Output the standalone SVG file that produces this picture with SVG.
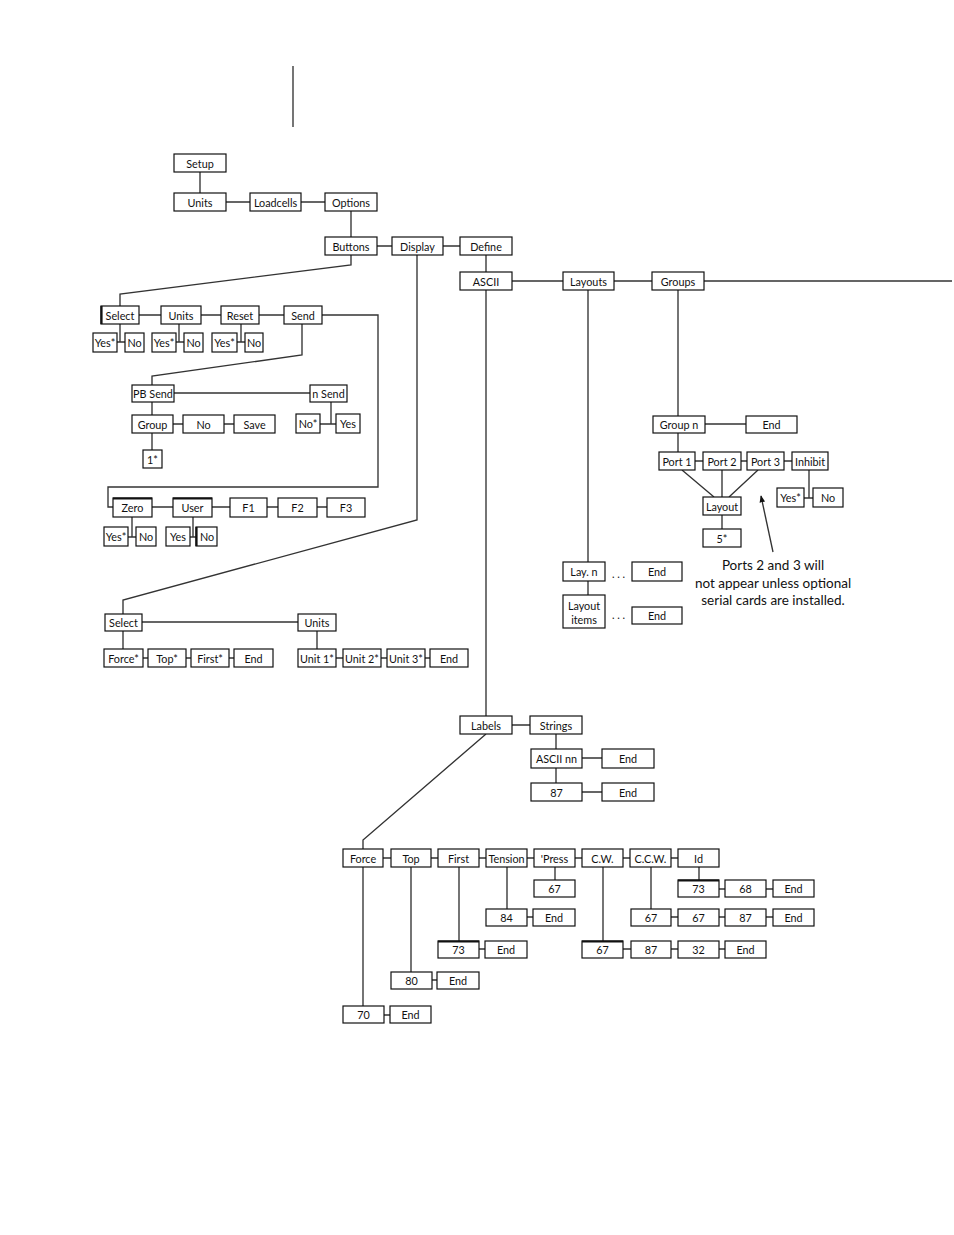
<svg xmlns="http://www.w3.org/2000/svg" width="954" height="1235" viewBox="0 0 954 1235">
<style>
.b{fill:#fff;stroke:#111;stroke-width:1.2}
.t{font-family:"Lato","Liberation Sans",sans-serif;font-size:10.8px;text-anchor:middle;dominant-baseline:central;fill:#111}
.n{font-family:"Lato","Liberation Sans",sans-serif;font-size:13.5px;text-anchor:middle;fill:#111}
.c{fill:none;stroke:#333;stroke-width:1.35}
.k{fill:none;stroke:#111;stroke-width:2.2}
</style>
<defs>
<marker id="ah" viewBox="0 0 10 10" refX="9" refY="5" markerWidth="7" markerHeight="7" orient="auto" markerUnits="userSpaceOnUse">
<path d="M0,1 L10,5 L0,9 Z" fill="#111"/>
</marker>
</defs>
<rect width="954" height="1235" fill="#fff"/>
<g id="connectors">
<path class="c" d="M293,66 V127"/>
<path class="c" d="M200,172 V193 M226,202 H250 M301,202 H325 M351,211 V237 M377,246 H392 M443,246 H460 M486,255 V272 M512,281 H563 M614,281 H652 M704,281 H952"/>
<path class="c" d="M351,255 V265 L120,294 V306 M139,315 H161 M201,315 H221 M259,315 H284"/>
<path class="c" d="M322,315 H378 V487 H108 V507 H113"/>
<path class="c" d="M120,324 V342 M117,342 H125 M179,324 V342 M176,342 H184 M241,324 V342 M237,342 H245"/>
<path class="c" d="M302,324 V355 L152,376 V385 M174,393 H310 M152,402 V415 M152,433 V450 M173,424 H183 M224,424 H234 M331,402 V424 M320,424 H336"/>
<path class="c" d="M152,507 H173 M212,507 H230 M267,507 H278 M317,507 H327 M132,517 V537 M128,537 H136 M193,517 V537 M190,537 H196"/>
<path class="c" d="M417,255 V520 L123,600 V614 M142,622 H298 M123,631 V649 M143,658 H148 M186,658 H191 M229,658 H234 M317,631 V649 M336,658 H343 M381,658 H387 M425,658 H430"/>
<path class="c" d="M486,290 V716 M512,725 H530 M556,734 V749 M582,758 H602 M556,768 V783 M582,792 H602"/>
<path class="c" d="M486,734 L363,840 V849 M383,858 H391 M431,858 H438 M479,858 H486 M527,858 H534 M575,858 H582 M623,858 H630 M671,858 H678"/>
<path class="c" d="M363,867 V1006 M384,1015 H390 M411,867 V972 M432,980 H437 M459,867 V941 M479,949 H485 M507,867 V909 M527,917 H533 M555,867 V880"/>
<path class="c" d="M603,867 V941 M623,949 H631 M671,949 H678 M719,949 H725 M651,867 V909 M671,917 H678 M719,917 H725 M766,917 H773 M699,867 V880 M719,889 H725 M766,889 H773"/>
<path class="c" d="M588,290 V562 M588,581 V595"/>
<path class="c" d="M678,290 V416 M705,424 H746 M678,433 V452 M695,461 H703 M741,461 H747 M784,461 H792 M682,470 L714,497 M722,470 V497 M758,470 L729,497 M722,515 V529 M809,470 V498 M804,498 H813"/>
<path class="c" d="M773,552 L761,496" marker-end="url(#ah)"/>
</g>
<g id="setup"><rect class="b" x="174" y="154" width="52" height="18"/><text class="t" x="200" y="163">Setup</text></g>
<g id="units1"><rect class="b" x="174" y="193" width="52" height="18"/><text class="t" x="200" y="202">Units</text></g>
<g id="loadcells"><rect class="b" x="250" y="193" width="51" height="18"/><text class="t" x="275.5" y="202">Loadcells</text></g>
<g id="options"><rect class="b" x="325" y="193" width="52" height="18"/><text class="t" x="351" y="202">Options</text></g>
<g id="buttons"><rect class="b" x="325" y="237" width="52" height="18"/><text class="t" x="351" y="246">Buttons</text></g>
<g id="display"><rect class="b" x="392" y="237" width="51" height="18"/><text class="t" x="417.5" y="246">Display</text></g>
<g id="define"><rect class="b" x="460" y="237" width="52" height="18"/><text class="t" x="486" y="246">Define</text></g>
<g id="ascii"><rect class="b" x="460" y="272" width="52" height="18"/><text class="t" x="486" y="281">ASCII</text></g>
<g id="layouts"><rect class="b" x="563" y="272" width="51" height="18"/><text class="t" x="588.5" y="281">Layouts</text></g>
<g id="groups"><rect class="b" x="652" y="272" width="52" height="18"/><text class="t" x="678" y="281">Groups</text></g>
<g id="select-b"><rect class="b" x="101" y="306" width="38" height="18"/><path class="k" d="M101.5,306 V324"/><text class="t" x="120" y="315">Select</text></g>
<g id="units-b"><rect class="b" x="161" y="306" width="40" height="18"/><text class="t" x="181" y="315">Units</text></g>
<g id="reset"><rect class="b" x="221" y="306" width="38" height="18"/><text class="t" x="240" y="315">Reset</text></g>
<g id="send"><rect class="b" x="284" y="306" width="38" height="18"/><text class="t" x="303" y="315">Send</text></g>
<g id="yes-s"><rect class="b" x="93" y="333" width="24" height="19"/><text class="t" x="105" y="342.5">Yes*</text></g>
<g id="no-s"><rect class="b" x="125" y="333" width="19" height="19"/><text class="t" x="134.5" y="342.5">No</text></g>
<g id="yes-u"><rect class="b" x="152" y="333" width="24" height="19"/><text class="t" x="164" y="342.5">Yes*</text></g>
<g id="no-u"><rect class="b" x="184" y="333" width="19" height="19"/><text class="t" x="193.5" y="342.5">No</text></g>
<g id="yes-r"><rect class="b" x="212" y="333" width="25" height="19"/><text class="t" x="224.5" y="342.5">Yes*</text></g>
<g id="no-r"><rect class="b" x="245" y="333" width="18" height="19"/><text class="t" x="254" y="342.5">No</text></g>
<g id="pbsend"><rect class="b" x="132" y="385" width="42" height="17"/><text class="t" x="153" y="393.5">PB Send</text></g>
<g id="nsend"><rect class="b" x="310" y="385" width="37" height="17"/><text class="t" x="328.5" y="393.5">n Send</text></g>
<g id="group"><rect class="b" x="132" y="415" width="41" height="18"/><text class="t" x="152.5" y="424">Group</text></g>
<g id="no-g"><rect class="b" x="183" y="415" width="41" height="18"/><text class="t" x="203.5" y="424">No</text></g>
<g id="save"><rect class="b" x="234" y="415" width="41" height="18"/><text class="t" x="254.5" y="424">Save</text></g>
<g id="one"><rect class="b" x="143" y="450" width="19" height="18"/><text class="t" x="152.5" y="459">1*</text></g>
<g id="nostar"><rect class="b" x="296" y="414" width="24" height="19"/><text class="t" x="308" y="423.5">No*</text></g>
<g id="yes-n"><rect class="b" x="336" y="414" width="24" height="19"/><text class="t" x="348" y="423.5">Yes</text></g>
<g id="zero"><rect class="b" x="113" y="498" width="39" height="19"/><path class="k" d="M113,498.5 H152"/><text class="t" x="132.5" y="507.5">Zero</text></g>
<g id="user"><rect class="b" x="173" y="498" width="39" height="19"/><path class="k" d="M173,498.5 H212"/><text class="t" x="192.5" y="507.5">User</text></g>
<g id="f1"><rect class="b" x="230" y="498" width="37" height="19"/><text class="t" x="248.5" y="507.5">F1</text></g>
<g id="f2"><rect class="b" x="278" y="498" width="39" height="19"/><text class="t" x="297.5" y="507.5">F2</text></g>
<g id="f3"><rect class="b" x="327" y="498" width="38" height="19"/><text class="t" x="346" y="507.5">F3</text></g>
<g id="yes-z"><rect class="b" x="104" y="527" width="24" height="19"/><text class="t" x="116" y="536.5">Yes*</text></g>
<g id="no-z"><rect class="b" x="136" y="527" width="20" height="19"/><text class="t" x="146" y="536.5">No</text></g>
<g id="yes-us"><rect class="b" x="166" y="527" width="24" height="19"/><text class="t" x="178" y="536.5">Yes</text></g>
<g id="no-us"><rect class="b" x="196" y="527" width="21" height="19"/><path class="k" d="M196.5,527 V546"/><text class="t" x="207" y="536.5">No</text></g>
<g id="select-d"><rect class="b" x="105" y="614" width="37" height="17"/><text class="t" x="123.5" y="622.5">Select</text></g>
<g id="units-d"><rect class="b" x="298" y="614" width="38" height="17"/><text class="t" x="317" y="622.5">Units</text></g>
<g id="force-s"><rect class="b" x="104" y="649" width="39" height="18"/><text class="t" x="123.5" y="658">Force*</text></g>
<g id="top-s"><rect class="b" x="148" y="649" width="38" height="18"/><text class="t" x="167" y="658">Top*</text></g>
<g id="first-s"><rect class="b" x="191" y="649" width="38" height="18"/><text class="t" x="210" y="658">First*</text></g>
<g id="end-s"><rect class="b" x="234" y="649" width="39" height="18"/><text class="t" x="253.5" y="658">End</text></g>
<g id="unit1"><rect class="b" x="298" y="649" width="38" height="18"/><text class="t" x="317" y="658">Unit 1*</text></g>
<g id="unit2"><rect class="b" x="343" y="649" width="38" height="18"/><text class="t" x="362" y="658">Unit 2*</text></g>
<g id="unit3"><rect class="b" x="387" y="649" width="38" height="18"/><text class="t" x="406" y="658">Unit 3*</text></g>
<g id="end-u"><rect class="b" x="430" y="649" width="38" height="18"/><text class="t" x="449" y="658">End</text></g>
<g id="labels"><rect class="b" x="460" y="716" width="52" height="18"/><text class="t" x="486" y="725">Labels</text></g>
<g id="strings"><rect class="b" x="530" y="716" width="52" height="18"/><text class="t" x="556" y="725">Strings</text></g>
<g id="asciinn"><rect class="b" x="531" y="749" width="51" height="19"/><text class="t" x="556.5" y="758.5">ASCII nn</text></g>
<g id="end-a"><rect class="b" x="602" y="749" width="52" height="19"/><text class="t" x="628" y="758.5">End</text></g>
<g id="n87"><rect class="b" x="531" y="783" width="51" height="18"/><text class="t" x="556.5" y="792">87</text></g>
<g id="end-87"><rect class="b" x="602" y="783" width="52" height="18"/><text class="t" x="628" y="792">End</text></g>
<g id="force"><rect class="b" x="343" y="849" width="40" height="18"/><text class="t" x="363" y="858">Force</text></g>
<g id="top"><rect class="b" x="391" y="849" width="40" height="18"/><text class="t" x="411" y="858">Top</text></g>
<g id="first"><rect class="b" x="438" y="849" width="41" height="18"/><text class="t" x="458.5" y="858">First</text></g>
<g id="tension"><rect class="b" x="486" y="849" width="41" height="18"/><text class="t" x="506.5" y="858">Tension</text></g>
<g id="press"><rect class="b" x="534" y="849" width="41" height="18"/><text class="t" x="554.5" y="858">'Press</text></g>
<g id="cw"><rect class="b" x="582" y="849" width="41" height="18"/><text class="t" x="602.5" y="858">C.W.</text></g>
<g id="ccw"><rect class="b" x="630" y="849" width="41" height="18"/><text class="t" x="650.5" y="858">C.C.W.</text></g>
<g id="id"><rect class="b" x="678" y="849" width="41" height="18"/><text class="t" x="698.5" y="858">Id</text></g>
<g id="n70"><rect class="b" x="343" y="1006" width="41" height="17"/><text class="t" x="363.5" y="1014.5">70</text></g>
<g id="end70"><rect class="b" x="390" y="1006" width="41" height="17"/><text class="t" x="410.5" y="1014.5">End</text></g>
<g id="n80"><rect class="b" x="391" y="972" width="41" height="17"/><text class="t" x="411.5" y="980.5">80</text></g>
<g id="end80"><rect class="b" x="437" y="972" width="42" height="17"/><text class="t" x="458" y="980.5">End</text></g>
<g id="n73a"><rect class="b" x="438" y="941" width="41" height="17"/><path class="k" d="M438,941.5 H479"/><text class="t" x="458.5" y="949.5">73</text></g>
<g id="end73"><rect class="b" x="485" y="941" width="42" height="17"/><text class="t" x="506" y="949.5">End</text></g>
<g id="n84"><rect class="b" x="486" y="909" width="41" height="17"/><text class="t" x="506.5" y="917.5">84</text></g>
<g id="end84"><rect class="b" x="533" y="909" width="42" height="17"/><text class="t" x="554" y="917.5">End</text></g>
<g id="n67p"><rect class="b" x="534" y="880" width="41" height="17"/><text class="t" x="554.5" y="888.5">67</text></g>
<g id="n67cw"><rect class="b" x="582" y="941" width="41" height="17"/><path class="k" d="M582,941.5 H623"/><text class="t" x="602.5" y="949.5">67</text></g>
<g id="n87cw"><rect class="b" x="631" y="941" width="40" height="17"/><text class="t" x="651" y="949.5">87</text></g>
<g id="n32"><rect class="b" x="678" y="941" width="41" height="17"/><text class="t" x="698.5" y="949.5">32</text></g>
<g id="endcw"><rect class="b" x="725" y="941" width="41" height="17"/><text class="t" x="745.5" y="949.5">End</text></g>
<g id="n67c1"><rect class="b" x="631" y="909" width="40" height="17"/><text class="t" x="651" y="917.5">67</text></g>
<g id="n67c2"><rect class="b" x="678" y="909" width="41" height="17"/><text class="t" x="698.5" y="917.5">67</text></g>
<g id="n87c"><rect class="b" x="725" y="909" width="41" height="17"/><text class="t" x="745.5" y="917.5">87</text></g>
<g id="endc"><rect class="b" x="773" y="909" width="41" height="17"/><text class="t" x="793.5" y="917.5">End</text></g>
<g id="n73i"><rect class="b" x="678" y="880" width="41" height="17"/><path class="k" d="M678,880.5 H719"/><text class="t" x="698.5" y="888.5">73</text></g>
<g id="n68"><rect class="b" x="725" y="880" width="41" height="17"/><text class="t" x="745.5" y="888.5">68</text></g>
<g id="endi"><rect class="b" x="773" y="880" width="41" height="17"/><text class="t" x="793.5" y="888.5">End</text></g>
<g id="groupn"><rect class="b" x="653" y="416" width="52" height="17"/><text class="t" x="679" y="424.5">Group n</text></g>
<g id="end-gn"><rect class="b" x="746" y="416" width="51" height="17"/><text class="t" x="771.5" y="424.5">End</text></g>
<g id="port1"><rect class="b" x="659" y="452" width="36" height="18"/><text class="t" x="677" y="461">Port 1</text></g>
<g id="port2"><rect class="b" x="703" y="452" width="38" height="18"/><text class="t" x="722" y="461">Port 2</text></g>
<g id="port3"><rect class="b" x="747" y="452" width="37" height="18"/><text class="t" x="765.5" y="461">Port 3</text></g>
<g id="inhibit"><rect class="b" x="792" y="452" width="36" height="18"/><text class="t" x="810" y="461">Inhibit</text></g>
<g id="layout"><rect class="b" x="703" y="497" width="38" height="18"/><text class="t" x="722" y="506">Layout</text></g>
<g id="five"><rect class="b" x="703" y="529" width="38" height="18"/><text class="t" x="722" y="538">5*</text></g>
<g id="yes-i"><rect class="b" x="777" y="488" width="27" height="19"/><text class="t" x="790.5" y="497.5">Yes*</text></g>
<g id="no-i"><rect class="b" x="813" y="488" width="30" height="19"/><text class="t" x="828" y="497.5">No</text></g>
<g id="layn"><rect class="b" x="563" y="562" width="42" height="19"/><text class="t" x="584" y="571.5">Lay. n</text></g>
<g id="end-l"><rect class="b" x="632" y="562" width="50" height="19"/><text class="t" x="657" y="571.5">End</text></g>
<g id="layitems"><rect class="b" x="563" y="595" width="42" height="33"/><text class="t" x="584" y="605">Layout</text><text class="t" x="584" y="619">items</text></g>
<g id="end-li"><rect class="b" x="632" y="607" width="50" height="17"/><text class="t" x="657" y="615.5">End</text></g>
<g id="dots">
<text class="t" x="618.5" y="573">. . .</text>
<text class="t" x="618.5" y="614">. . .</text>
</g>
<g id="note">
<text class="n" x="773" y="570">Ports 2 and 3 will</text>
<text class="n" x="773" y="588">not appear unless optional</text>
<text class="n" x="773" y="605">serial cards are installed.</text>
</g>
</svg>
